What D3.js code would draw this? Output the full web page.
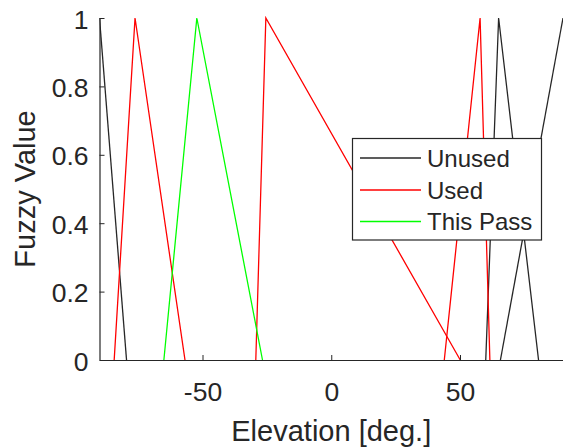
<!DOCTYPE html>
<html><head><meta charset="utf-8">
<script src="https://cdn.jsdelivr.net/npm/d3@7"></script>
<style>
html,body{margin:0;padding:0;background:#fff;}
text{font-family:"Liberation Sans",Arial,Helvetica,sans-serif;fill:#262626;}
</style></head>
<body>
<svg id="chart" width="563" height="447"></svg>
<script>
// Series: triangular membership functions (elevation, fuzzy value); each array is one polyline
const unusedSets = [
  [[-90, 1], [-79.5, 0]],
  [[60, 0], [65, 1], [80.5, 0]],
  [[65.7, 0], [90, 1]]
];
const usedSets = [
  [[-84.3, 0], [-76.2, 1], [-56.8, 0]],
  [[-29.3, 0], [-25.4, 1], [50.1, 0]],
  [[43.9, 0], [57.8, 1], [61.6, 0]]
];
const thisPassSets = [
  [[-65, 0], [-52.2, 1], [-26.7, 0]]
];
const xTicks = [-50, 0, 50];
const yTicks = [0, 0.2, 0.4, 0.6, 0.8, 1];
const seriesNames = ["Unused", "Used", "This Pass"];
const seriesColors = ["#000000", "#ff0000", "#00ff00"];

const svg = d3.select("#chart");
const L = 99.5, R = 563, T = 18, B = 360;
const x = d3.scaleLinear().domain([-90, 90]).range([L, R]);
const y = d3.scaleLinear().domain([0, 1]).range([B, T]);

svg.append("clipPath").attr("id", "clip").append("rect")
  .attr("x", L).attr("y", T - 2).attr("width", R - L).attr("height", B - T + 4);

const line = d3.line().x(d => x(d[0])).y(d => y(d[1]));
const g = svg.append("g").attr("clip-path", "url(#clip)");
[unusedSets, usedSets, thisPassSets].forEach((sets, i) => {
  g.selectAll(null).data(sets).enter().append("path")
    .attr("d", line).attr("fill", "none")
    .attr("stroke", seriesColors[i]).attr("stroke-width", 1.3)
    .attr("stroke-opacity", i === 0 ? 0.85 : 1);
});

// axes
const xAxis = d3.axisBottom(x).tickValues(xTicks).tickSizeInner(-5).tickSizeOuter(0).tickFormat(d3.format("d"));
const gx = svg.append("g").attr("transform", `translate(0,${B})`).call(xAxis);
gx.select(".domain").attr("stroke", "#262626").attr("stroke-width", 1.2);
gx.selectAll(".tick line").attr("stroke", "#262626");
gx.selectAll("text").style("font-size", "26.5px").attr("fill", "#262626")
  .attr("y", 40.5).attr("dy", 0)
  .text(d => d < 0 ? "-" + Math.abs(d) : d);

const yAxis = d3.axisLeft(y).tickValues(yTicks).tickSizeInner(-5).tickSizeOuter(0).tickPadding(11)
  .tickFormat(d => d === 0 ? "0" : d === 1 ? "1" : d3.format(".1f")(d));
const gy = svg.append("g").attr("transform", `translate(${L},0)`).call(yAxis);
gy.select(".domain").attr("stroke", "#262626").attr("stroke-width", 1.2);
gy.selectAll(".tick line").attr("stroke", "#262626");
gy.selectAll("text").style("font-size", "26.5px").attr("fill", "#262626").attr("dy", "0.38em");

svg.append("text").attr("x", x(0)).attr("y", 441).attr("text-anchor", "middle")
  .style("font-size", "29px").text("Elevation [deg.]");
svg.append("text").attr("transform", `translate(35,${(T + B) / 2}) rotate(-90)`)
  .attr("text-anchor", "middle").style("font-size", "29px").text("Fuzzy Value");

// legend
const lg = svg.append("g");
lg.append("rect").attr("x", 352.5).attr("y", 138.5).attr("width", 189).attr("height", 101.5)
  .attr("fill", "#fff").attr("stroke", "#262626").attr("stroke-width", 1.2);
const rowsY = [158, 190, 221.5];
seriesNames.forEach((n, i) => {
  lg.append("line").attr("x1", 360).attr("x2", 421).attr("y1", rowsY[i]).attr("y2", rowsY[i])
    .attr("stroke", seriesColors[i]).attr("stroke-width", 1.3).attr("stroke-opacity", i === 0 ? 0.85 : 1);
  lg.append("text").attr("x", 427).attr("y", rowsY[i]).attr("dy", "0.36em")
    .style("font-size", "24px").attr("fill", "#000").text(n);
});
</script>
</body></html>
